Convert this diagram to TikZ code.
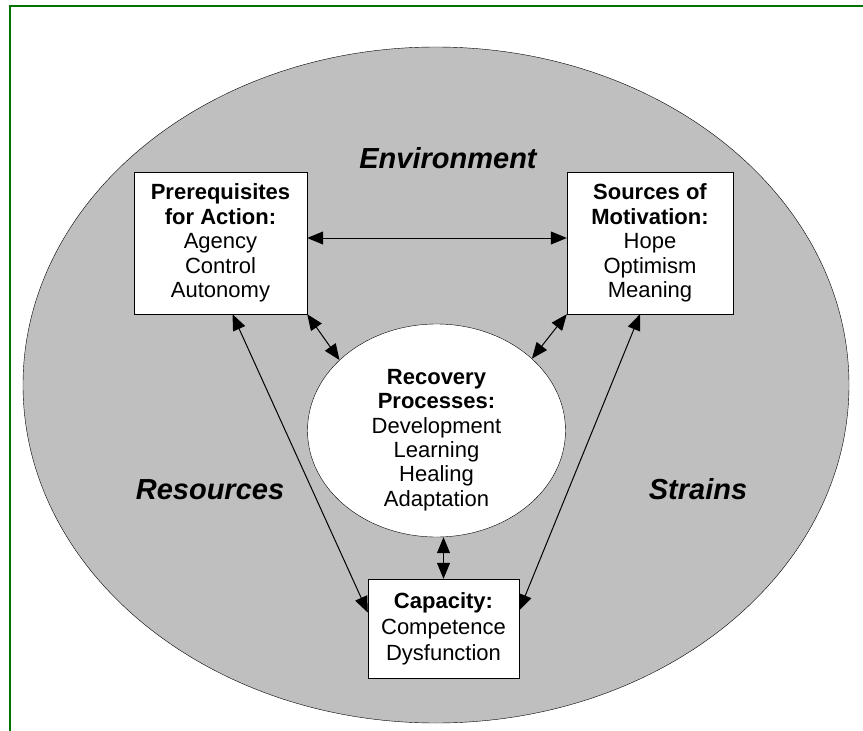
\documentclass[tikz,border=0pt]{standalone}
\usepackage{fontspec}
\setmainfont{Liberation Sans}
\usepackage{tikz}
\usetikzlibrary{arrows.meta, shapes.geometric, positioning}

\begin{document}
\begin{tikzpicture}[x=1pt, y=-1pt,
	box/.style={rectangle, draw, fill=white, inner sep=0pt, align=center, font=\fontsize{22}{24.5}\selectfont},
	area/.style={anchor=base, font=\fontsize{29}{30}\selectfont\bfseries\itshape},
	link/.style={{Triangle[length=16pt,width=13pt]}-{Triangle[length=16pt,width=13pt]}, line width=1pt}]
	\useasboundingbox (0,0) rectangle (863,731);
	\draw[green!45!black, line width=2pt] (10,731) -- (10,6) -- (863,6);
	
	\node[ellipse, draw, fill=black!25, inner sep=0pt, minimum width=826, minimum height=676] (env) at (436,385) {};
	\node[area] (envlabel) at (448,168) {Environment};
	\node[area] (reslabel) at (210,499) {Resources};
	\node[area] (strlabel) at (698,499) {Strains};
	
	\node[box, minimum width=173, minimum height=142] (pre) at (220.5,243) {\textbf{Prerequisites}\\ \textbf{for Action:}\\ Agency\\ Control\\ Autonomy};
	\node[box, minimum width=166, minimum height=142] (mot) at (650,243) {\textbf{Sources of}\\ \textbf{Motivation:}\\ Hope\\ Optimism\\ Meaning};
	\node[ellipse, draw, fill=white, inner sep=0pt, minimum width=258, minimum height=213] (rec) at (436.5,430.5) {};
	\node[align=center, font=\fontsize{22}{24.4}\selectfont] (rectext) at (436.5,440) {\textbf{Recovery}\\ \textbf{Processes:}\\ Development\\ Learning\\ Healing\\ Adaptation};
	\node[box, minimum width=151, minimum height=99, font=\fontsize{22}{26}\selectfont] (cap) at (443.5,628.5) {\textbf{Capacity:}\\ Competence\\ Dysfunction};
	
	\path[link]
	([yshift=5pt]pre.east) edge ([yshift=5pt]mot.west)
	(pre.south east) edge (rec.144)
	(mot.south west) edge (rec.37)
	([xshift=12pt]pre.south) edge ([yshift=16pt]cap.west)
	([xshift=-10pt]mot.south) edge ([yshift=18pt]cap.east)
	(rec.south -| cap.north) edge (cap.north);
\end{tikzpicture}
\end{document}
